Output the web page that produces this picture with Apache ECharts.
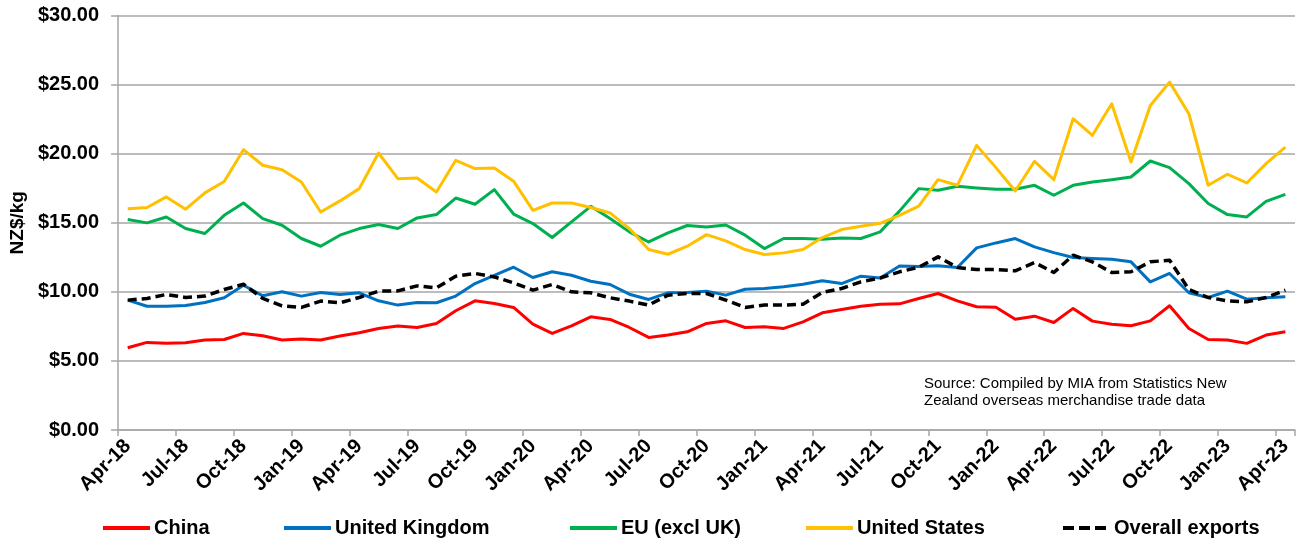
<!DOCTYPE html>
<html>
<head>
<meta charset="utf-8">
<script src="https://cdn.jsdelivr.net/npm/echarts@6/dist/echarts.min.js"></script>
<style>
html,body{margin:0;padding:0;background:#fff;}
#chart{width:1303px;height:546px;}
</style>
</head>
<body>
<div id="chart"></div>
<script>
const months = ['Apr-18','May-18','Jun-18','Jul-18','Aug-18','Sep-18','Oct-18','Nov-18','Dec-18',
 'Jan-19','Feb-19','Mar-19','Apr-19','May-19','Jun-19','Jul-19','Aug-19','Sep-19','Oct-19','Nov-19','Dec-19',
 'Jan-20','Feb-20','Mar-20','Apr-20','May-20','Jun-20','Jul-20','Aug-20','Sep-20','Oct-20','Nov-20','Dec-20',
 'Jan-21','Feb-21','Mar-21','Apr-21','May-21','Jun-21','Jul-21','Aug-21','Sep-21','Oct-21','Nov-21','Dec-21',
 'Jan-22','Feb-22','Mar-22','Apr-22','May-22','Jun-22','Jul-22','Aug-22','Sep-22','Oct-22','Nov-22','Dec-22',
 'Jan-23','Feb-23','Mar-23','Apr-23'];

const china = [5.95,6.34,6.27,6.31,6.51,6.55,6.99,6.82,6.51,6.58,6.51,6.80,7.04,7.35,7.52,7.42,7.71,8.63,9.35,9.16,8.87,
 7.66,6.99,7.54,8.19,8.00,7.42,6.70,6.87,7.11,7.71,7.90,7.42,7.47,7.35,7.83,8.48,8.72,8.96,9.10,9.13,
 9.52,9.88,9.35,8.92,8.89,8.02,8.24,7.78,8.80,7.88,7.66,7.54,7.90,8.99,7.35,6.55,6.51,6.27,6.87,7.11];

const uk = [9.40,8.96,8.96,9.01,9.23,9.57,10.48,9.71,10.00,9.69,9.95,9.81,9.93,9.35,9.04,9.23,9.21,9.69,10.60,11.20,11.78,
 11.04,11.45,11.20,10.77,10.53,9.83,9.45,9.93,9.95,10.05,9.76,10.19,10.24,10.36,10.55,10.80,10.60,11.13,11.00,11.87,
 11.83,11.88,11.76,13.18,13.54,13.86,13.25,12.84,12.48,12.41,12.36,12.17,10.72,11.33,9.93,9.59,10.05,9.47,9.57,9.64];

const eu = [15.23,14.99,15.42,14.58,14.22,15.54,16.43,15.30,14.82,13.86,13.30,14.10,14.58,14.87,14.58,15.35,15.59,16.79,16.34,17.40,15.63,
 14.94,13.93,15.06,16.19,15.30,14.34,13.61,14.27,14.80,14.70,14.84,14.10,13.13,13.86,13.86,13.81,13.90,13.86,14.34,15.84,
 17.47,17.35,17.64,17.52,17.42,17.42,17.71,16.99,17.71,17.95,18.12,18.31,19.47,18.99,17.83,16.39,15.59,15.42,16.55,17.06];

const us = [16.02,16.10,16.87,15.98,17.16,17.98,20.29,19.16,18.84,17.95,15.78,16.58,17.47,20.05,18.19,18.24,17.23,19.52,18.92,18.96,18.01,
 15.90,16.43,16.43,16.10,15.71,14.58,13.06,12.72,13.30,14.14,13.69,13.06,12.70,12.82,13.06,13.93,14.51,14.75,14.96,15.54,
 16.20,18.12,17.71,20.60,18.99,17.30,19.45,18.12,22.53,21.33,23.61,19.40,23.49,25.18,22.89,17.71,18.51,17.88,19.28,20.48];

const overall = [9.40,9.52,9.81,9.59,9.69,10.17,10.55,9.52,8.99,8.87,9.33,9.21,9.59,10.05,10.07,10.43,10.29,11.13,11.33,11.08,10.65,
 10.12,10.53,10.00,9.93,9.57,9.33,9.04,9.76,9.88,9.88,9.40,8.87,9.04,9.04,9.11,9.95,10.24,10.72,11.00,11.45,
 11.78,12.53,11.76,11.61,11.61,11.52,12.12,11.40,12.65,12.17,11.40,11.45,12.17,12.29,10.17,9.59,9.35,9.28,9.59,10.12];

const seriesNames = ['China','United Kingdom','EU (excl UK)','United States','Overall exports'];
const seriesColors = ['#FF0000','#0070C0','#00B050','#FFC000','#000000'];
const seriesData = [china, uk, eu, us, overall];
const legendLeft = [101, 282, 568, 804, 1061];
const sourceLines = ['Source: Compiled by MIA from Statistics New','Zealand overseas merchandise trade data'];

const FONT = '"Liberation Sans", Arial, Helvetica, sans-serif';
const GRID_COLOR = '#A6A6A6';

const chart = echarts.init(document.getElementById('chart'), null, {renderer: 'canvas'});

const series = seriesNames.map((name, i) => ({
  name: name,
  type: 'line',
  data: seriesData[i],
  symbol: 'none',
  showSymbol: false,
  smooth: false,
  animation: false,
  lineStyle: {
    color: seriesColors[i],
    width: i === 4 ? 3.5 : 3,
    type: i === 4 ? [9, 5] : 'solid',
    join: 'round'
  },
  itemStyle: {color: seriesColors[i]}
}));

const legends = seriesNames.map((name, i) => ({
  data: [name],
  left: legendLeft[i],
  top: 518,
  itemWidth: 47,
  itemHeight: 10,
  itemGap: 0,
  itemStyle: {opacity: 0},
  lineStyle: {width: i === 4 ? 4 : 4, type: i === 4 ? [11, 5] : 'solid'},
  textStyle: {fontFamily: FONT, fontSize: 20, fontWeight: 'bold', color: '#000', padding: [0,0,0,-1]},
  padding: 0,
  selectedMode: false
}));

chart.setOption({
  backgroundColor: '#fff',
  animation: false,
  grid: {left: 116, right: 8, top: 15.5, bottom: 116, containLabel: false},
  legend: legends,
  xAxis: {
    type: 'category',
    data: months,
    boundaryGap: true,
    axisLine: {show: true, lineStyle: {color: GRID_COLOR, width: 1.5}},
    axisTick: {show: true, interval: 2, length: 6, lineStyle: {color: GRID_COLOR, width: 1.5}},
    axisLabel: {
      interval: 2,
      rotate: 45,
      margin: 13,
      fontFamily: FONT,
      fontSize: 20,
      fontWeight: 'bold',
      color: '#000'
    },
    splitLine: {show: false}
  },
  yAxis: {
    type: 'value',
    min: 0,
    max: 30,
    interval: 5,
    name: 'NZ$/kg',
    nameLocation: 'middle',
    nameGap: 88,
    nameTextStyle: {fontFamily: FONT, fontSize: 19, fontWeight: 'bold', color: '#000'},
    axisLine: {show: true, lineStyle: {color: GRID_COLOR, width: 1.5}},
    axisTick: {show: true, length: 7, lineStyle: {color: GRID_COLOR, width: 1.5}},
    axisLabel: {
      margin: 19,
      fontFamily: FONT,
      fontSize: 20,
      fontWeight: 'bold',
      color: '#000',
      formatter: v => '$' + v.toFixed(2)
    },
    splitLine: {show: true, lineStyle: {color: GRID_COLOR, width: 1.5}}
  },
  graphic: [{
    type: 'text',
    left: 924,
    top: 376,
    style: {
      text: sourceLines.join('\n'),
      fontFamily: FONT,
      fontSize: 15,
      lineHeight: 16.5,
      fill: '#000'
    }
  }],
  series: series
});
</script>
</body>
</html>
